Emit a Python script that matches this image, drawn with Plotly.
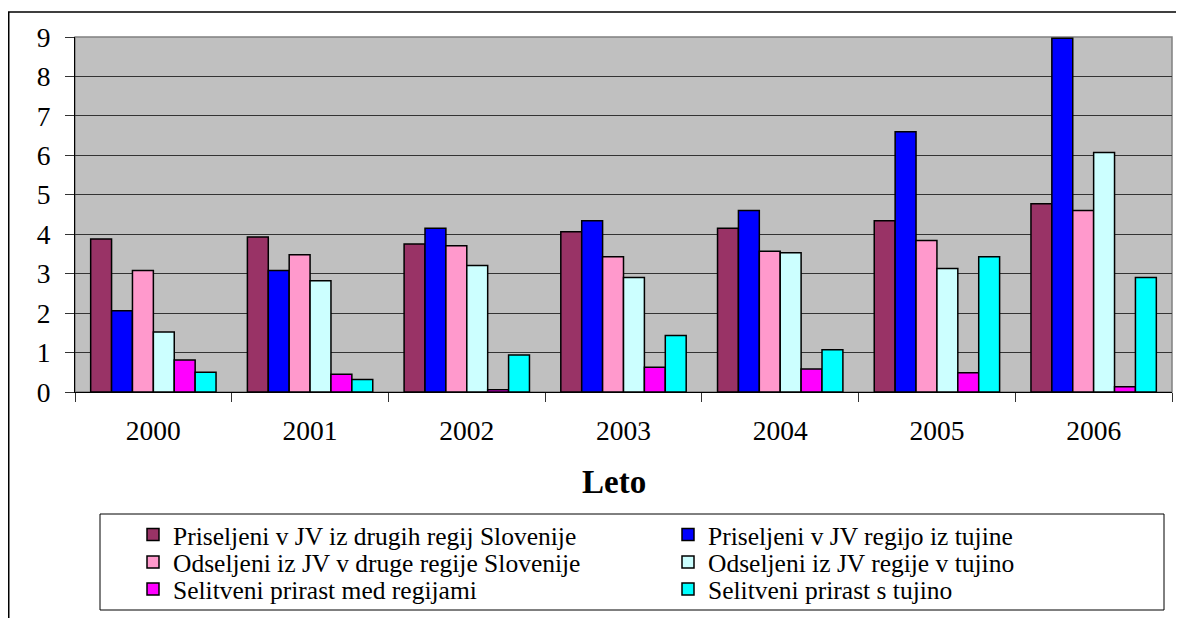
import plotly.graph_objects as go

years = ["2000", "2001", "2002", "2003", "2004", "2005", "2006"]

priseljeni_regije = [3.88, 3.93, 3.75, 4.06, 4.15, 4.34, 4.77]
priseljeni_tujina = [2.06, 3.08, 4.15, 4.34, 4.60, 6.60, 8.97]
odseljeni_regije = [3.08, 3.48, 3.71, 3.43, 3.57, 3.84, 4.60]
odseljeni_tujina = [1.52, 2.82, 3.21, 2.90, 3.53, 3.13, 6.07]
prirast_regije = [0.81, 0.45, 0.06, 0.63, 0.58, 0.49, 0.13]
prirast_tujina = [0.50, 0.32, 0.94, 1.43, 1.07, 3.43, 2.90]

series_names = [
    "Priseljeni v JV iz drugih regij Slovenije",
    "Priseljeni v JV regijo iz tujine",
    "Odseljeni iz JV v druge regije Slovenije",
    "Odseljeni iz JV regije v tujino",
    "Selitveni prirast med regijami",
    "Selitveni prirast s tujino",
]
series_values = [priseljeni_regije, priseljeni_tujina, odseljeni_regije,
                 odseljeni_tujina, prirast_regije, prirast_tujina]
series_colors = ["#993366", "#0000FF", "#FF99CC", "#CCFFFF", "#FF00FF", "#00FFFF"]
legend_ids = ["legend", "legend", "legend2", "legend2", "legend3", "legend3"]

y_ticks = [0, 1, 2, 3, 4, 5, 6, 7, 8, 9]

# the page body adds an 8px offset; work in screen coordinates and subtract it
OFF = 8
W, H = 1184, 618
L, R, T, B = 75 - OFF, 1172 - OFF, 37 - OFF, 392 - OFF
pw, ph = R - L, B - T


def px_x(x):
    return (x - OFF - L) / pw


def px_y(y):
    return (B - (y - OFF)) / ph


FONT = "Liberation Serif, Times New Roman, serif"

fig = go.Figure()
for name, vals, col, lg in zip(series_names, series_values, series_colors, legend_ids):
    fig.add_trace(go.Bar(
        x=years, y=vals, name=name, legend=lg,
        marker=dict(color=col, line=dict(color="black", width=1.5)),
    ))


def legend_row(center_y):
    return dict(
        orientation="h",
        xref="container", yref="container",
        x=(133 - OFF) / W, y=1 - (center_y - OFF) / H, xanchor="left", yanchor="middle",
        font=dict(family=FONT, size=25.5, color="black"),
        entrywidth=490, entrywidthmode="pixels",
        bgcolor="rgba(0,0,0,0)", borderwidth=0,
        traceorder="normal",
    )


fig.update_layout(
    width=W, height=H,
    margin=dict(l=L, r=W - R, t=T, b=H - B, autoexpand=False),
    paper_bgcolor="white",
    plot_bgcolor="#C0C0C0",
    barmode="group",
    bargap=0.2,
    bargroupgap=0,
    font=dict(family=FONT, color="black"),
    showlegend=True,
    legend=legend_row(535),
    legend2=legend_row(562.5),
    legend3=legend_row(589.5),
    xaxis=dict(
        type="category",
        tickson="boundaries",
        ticks="outside", ticklen=9, tickcolor="#333333",
        tickfont=dict(family=FONT, size=27.5, color="black"),
        showline=True, linecolor="black", linewidth=1,
        showgrid=False,
        ticklabelstandoff=14,
    ),
    yaxis=dict(
        range=[0, 9],
        tickvals=y_ticks,
        ticks="outside", ticklen=9, tickcolor="#333333",
        tickfont=dict(family=FONT, size=27.5, color="black"),
        showline=True, linecolor="black", linewidth=1,
        showgrid=True, gridcolor="#333333", gridwidth=1,
        zeroline=False,
        ticklabelstandoff=9,
    ),
    annotations=[
        dict(text="<b>Leto</b>", x=px_x(614), y=px_y(482), xref="paper", yref="paper",
             showarrow=False, xanchor="center", yanchor="middle",
             font=dict(family=FONT, size=33, color="black")),
    ],
    shapes=[
        # outer chart border
        dict(type="rect", xref="paper", yref="paper",
             x0=px_x(8.75), x1=px_x(1200), y0=px_y(640), y1=px_y(12),
             line=dict(color="black", width=1.5), fillcolor="rgba(0,0,0,0)", layer="below"),
        # plot area border (top / right grey)
        dict(type="rect", xref="paper", yref="paper", x0=0, x1=1, y0=0, y1=1,
             line=dict(color="#808080", width=1.5), fillcolor="rgba(0,0,0,0)", layer="below"),
        # legend box
        dict(type="rect", xref="paper", yref="paper",
             x0=px_x(100), x1=px_x(1164), y0=px_y(610), y1=px_y(514),
             line=dict(color="black", width=1), fillcolor="white", layer="below"),
    ],
)

fig.write_html("out.html")
